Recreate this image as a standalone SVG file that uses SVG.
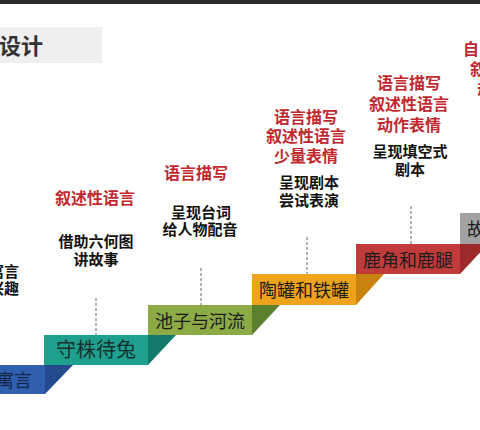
<svg xmlns="http://www.w3.org/2000/svg" width="480" height="430" viewBox="0 0 480 430">
<style>
text{font-family:"Noto Sans CJK SC","Noto Sans",sans-serif}
.red{fill:#c0282e;font-size:16px;font-weight:bold;text-anchor:middle}
.blk{fill:#111;font-size:15px;font-weight:bold;text-anchor:middle}
.lbl{fill:#1c1c1c;font-size:18px;text-anchor:middle}
.dash{stroke:#9a9a9a;stroke-width:1.5;stroke-dasharray:3 2;fill:none}
</style>
<rect x="0" y="0" width="480" height="430" fill="#ffffff"/>
<rect x="0" y="0" width="480" height="4" fill="#2b2b2b"/>
<g id="title">
<rect x="0" y="27" width="102" height="36" fill="#efefef"/>
<text x="-1" y="54" style="font-size:22px;font-weight:bold;fill:#333">设计</text>
</g>
<g id="connectors">
<line class="dash" x1="96" y1="298" x2="96" y2="335"/>
<line class="dash" x1="201" y1="268" x2="201" y2="305"/>
<line class="dash" x1="307" y1="237" x2="307" y2="274"/>
<line class="dash" x1="411" y1="206" x2="411" y2="244"/>
</g>
<g id="step1">
<rect x="0" y="365" width="45" height="29" fill="#2f5fae"/>
<polygon points="45,365 73,365 45,394" fill="#234a8c"/>
<text x="-4" y="387" class="lbl" style="text-anchor:start;fill:#14264a">寓言</text>
</g>
<g id="step2">
<rect x="44" y="335" width="104" height="30" fill="#1fa08f"/>
<polygon points="148,335 176,335 148,365" fill="#157a6e"/>
<text x="96" y="357" class="lbl" style="font-size:20px;fill:#15302c">守株待兔</text>
</g>
<g id="step3">
<rect x="148" y="305" width="104" height="30" fill="#8cab46"/>
<polygon points="252,305 280,305 252,335" fill="#5b8030"/>
<text x="200" y="328" class="lbl">池子与河流</text>
</g>
<g id="step4">
<rect x="252" y="274" width="104" height="31" fill="#efa21c"/>
<polygon points="356,274 384,274 356,305" fill="#c9840f"/>
<text x="304" y="297" class="lbl">陶罐和铁罐</text>
</g>
<g id="step5">
<rect x="356" y="244" width="104" height="30" fill="#c23b3b"/>
<polygon points="460,244 488,244 460,274" fill="#9c2a2a"/>
<text x="408" y="267" class="lbl">鹿角和鹿腿</text>
</g>
<g id="step6">
<rect x="460" y="213" width="30" height="31" fill="#a2a2a2"/>
<text x="467" y="236" class="lbl" style="text-anchor:start">故</text>
</g>
<g id="col1">
<text x="19" y="277" class="blk" style="text-anchor:end">寓言</text>
<text x="19" y="294" class="blk" style="text-anchor:end">兴趣</text>
</g>
<g id="col2">
<text x="95" y="204" class="red">叙述性语言</text>
<text x="96" y="247" class="blk">借助六何图</text>
<text x="96" y="265" class="blk">讲故事</text>
</g>
<g id="col3">
<text x="196" y="179" class="red">语言描写</text>
<text x="201" y="218" class="blk">呈现台词</text>
<text x="200" y="235" class="blk">给人物配音</text>
</g>
<g id="col4">
<text x="306" y="123" class="red">语言描写</text>
<text x="306" y="142" class="red">叙述性语言</text>
<text x="306" y="162" class="red">少量表情</text>
<text x="309" y="188" class="blk">呈现剧本</text>
<text x="309" y="206" class="blk">尝试表演</text>
</g>
<g id="col5">
<text x="409" y="89" class="red">语言描写</text>
<text x="409" y="110" class="red">叙述性语言</text>
<text x="409" y="131" class="red">动作表情</text>
<text x="410" y="157" class="blk">呈现填空式</text>
<text x="410" y="175" class="blk">剧本</text>
</g>
<g id="col6">
<text x="463" y="55" class="red" style="text-anchor:start">自</text>
<text x="470" y="75" class="red" style="text-anchor:start">叙</text>
<text x="477" y="96" class="red" style="text-anchor:start">动</text>
</g>
</svg>
